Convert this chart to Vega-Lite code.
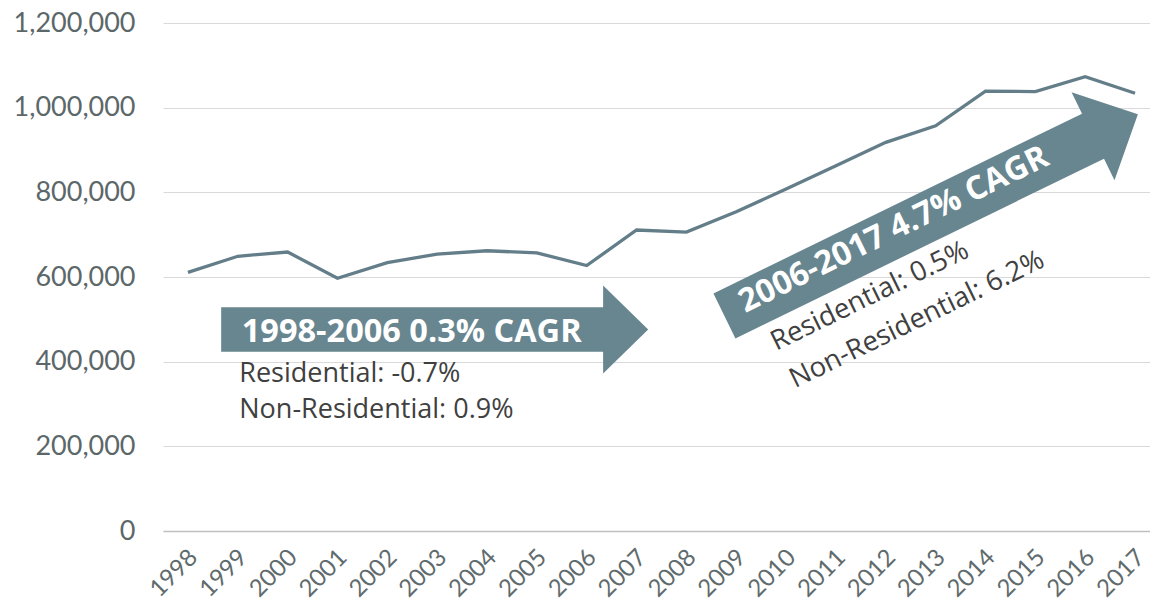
{
  "$schema": "https://vega.github.io/schema/vega-lite/v6.json",
  "width": 987,
  "height": 508,
  "autosize": {"type": "none"},
  "padding": {"left": 163, "top": 23, "right": 0, "bottom": 74},
  "background": "white",
  "config": {"view": {"stroke": null}},
  "encoding": {
    "x": {
      "field": "year", "type": "quantitative",
      "scale": {"domain": [1997.5, 2017.3], "nice": false, "zero": false},
      "axis": {
        "title": null, "values": [1998,1999,2000,2001,2002,2003,2004,2005,2006,2007,2008,2009,2010,2011,2012,2013,2014,2015,2016,2017],
        "format": "d", "labelAngle": -45, "labelFont": "Lato", "labelFontSize": 24, "labelColor": "#5f6b6d",
        "labelFlush": false, "labelOverlap": false, "labelBound": false, "labelPadding": 14, "labelOffset": -3,
        "ticks": false, "grid": false, "domain": true, "domainColor": "#bfbfbf", "domainWidth": 1.5
      }
    },
    "y": {
      "field": "value", "type": "quantitative",
      "scale": {"domain": [0, 1200000], "nice": false},
      "axis": {
        "title": null, "values": [0,200000,400000,600000,800000,1000000,1200000],
        "format": ",.0f", "labelFont": "Lato", "labelFontSize": 27, "labelColor": "#5c6769",
        "labelPadding": 28, "ticks": false, "domain": false, "grid": true, "gridColor": "#d9d9d9", "gridWidth": 1
      }
    }
  },
  "layer": [
    {
      "data": {"values": [
        {"year": 1998, "value": 611000},
        {"year": 1999, "value": 649000},
        {"year": 2000, "value": 659000},
        {"year": 2001, "value": 597000},
        {"year": 2002, "value": 634000},
        {"year": 2003, "value": 654000},
        {"year": 2004, "value": 662000},
        {"year": 2005, "value": 657000},
        {"year": 2006, "value": 627000},
        {"year": 2007, "value": 711000},
        {"year": 2008, "value": 706000},
        {"year": 2009, "value": 754000},
        {"year": 2010, "value": 808000},
        {"year": 2011, "value": 863000},
        {"year": 2012, "value": 918000},
        {"year": 2013, "value": 957000},
        {"year": 2014, "value": 1039000},
        {"year": 2015, "value": 1038000},
        {"year": 2016, "value": 1073000},
        {"year": 2017, "value": 1034000}
      ]},
      "mark": {"type": "line", "color": "#637E89", "strokeWidth": 3.3}
    },
    {
      "data": {"values": [{"year": 2002.95, "value": 476000}]},
      "mark": {"type": "point", "filled": true, "opacity": 1, "fill": "#688690", "strokeWidth": 0,
        "size": 182329,
        "shape": "M-1,-0.104 L0.789,-0.104 L0.789,-0.206 L1,0 L0.789,0.206 L0.789,0.104 L-1,0.104 Z"}
    },
    {
      "data": {"values": [{"year": 2012.91, "value": 746200}]},
      "mark": {"type": "point", "filled": true, "opacity": 1, "fill": "#688690", "strokeWidth": 0,
        "size": 211600, "angle": -26,
        "shape": "M-1,-0.109 L0.783,-0.109 L0.783,-0.213 L1,0 L0.783,0.213 L0.783,0.109 L-1,0.109 Z"}
    },
    {
      "data": {"values": [{"year": 1999.08, "value": 447200, "label": "1998-2006 0.3% CAGR"}]},
      "mark": {"type": "text", "align": "left", "baseline": "alphabetic", "font": "Open Sans", "fontWeight": "bold", "fontSize": 32.5, "color": "white"},
      "encoding": {"text": {"field": "label"}}
    },
    {
      "data": {"values": [
        {"year": 1999.03, "value": 352700, "label": "Residential: -0.7%"},
        {"year": 1999.03, "value": 266200, "label": "Non-Residential: 0.9%"}
      ]},
      "mark": {"type": "text", "align": "left", "baseline": "alphabetic", "font": "Open Sans", "fontSize": 27, "color": "#404040"},
      "encoding": {"text": {"field": "label"}}
    },
    {
      "data": {"values": [{"year": 2009.18, "value": 514900, "label": "2006-2017 4.7% CAGR"}]},
      "mark": {"type": "text", "align": "left", "baseline": "alphabetic", "angle": -26, "font": "Open Sans", "fontWeight": "bold", "fontSize": 32.5, "color": "white"},
      "encoding": {"text": {"field": "label"}}
    },
    {
      "data": {"values": [
        {"year": 2009.8, "value": 425200, "label": "Residential: 0.5%"},
        {"year": 2010.18, "value": 337100, "label": "Non-Residential: 6.2%"}
      ]},
      "mark": {"type": "text", "align": "left", "baseline": "alphabetic", "angle": -26, "font": "Open Sans", "fontSize": 27.5, "color": "#404040"},
      "encoding": {"text": {"field": "label"}}
    }
  ]
}
